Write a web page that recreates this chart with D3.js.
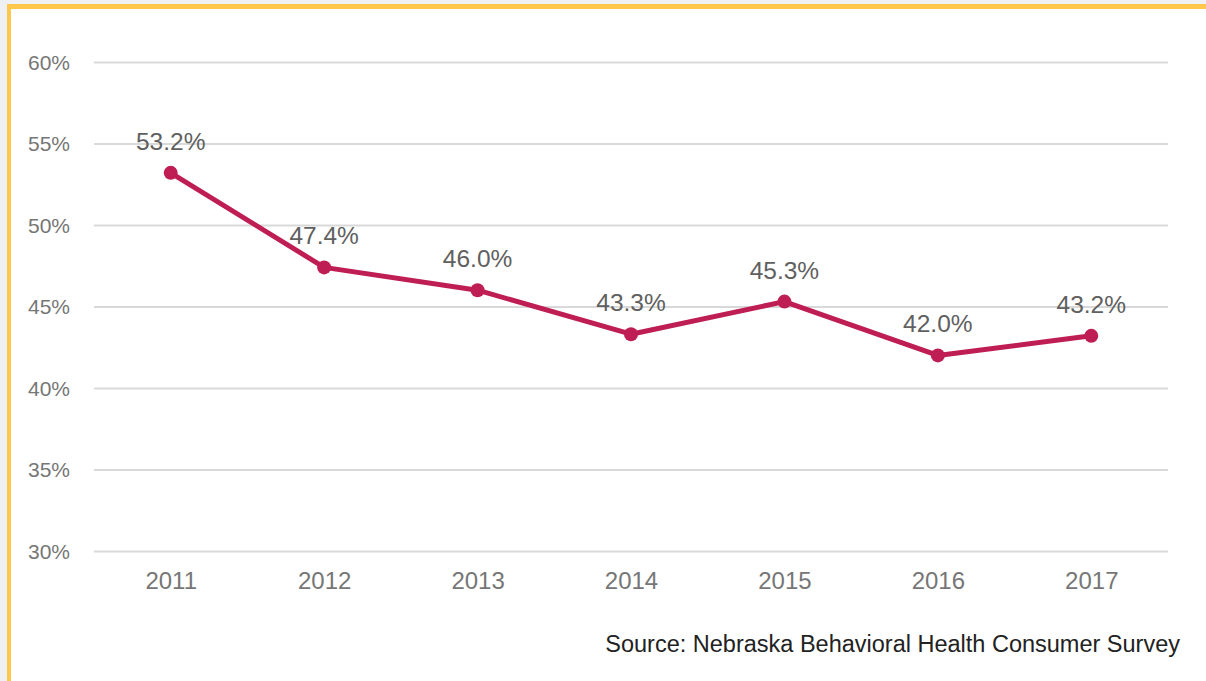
<!DOCTYPE html>
<html>
<head>
<meta charset="utf-8">
<script src="https://d3js.org/d3.v7.min.js"></script>
<style>
  html, body { margin: 0; padding: 0; background: #eef0f3; }
  svg { display: block; font-family: "Liberation Sans", Arial, sans-serif; }
</style>
</head>
<body>
<div id="chart"></div>
<script>
  // values
  const years = ["2011", "2012", "2013", "2014", "2015", "2016", "2017"];
  const values = [53.2, 47.4, 46.0, 43.3, 45.3, 42.0, 43.2];
  const yTicks = [30, 35, 40, 45, 50, 55, 60];
  const source = "Source: Nebraska Behavioral Health Consumer Survey";

  const W = 1206, H = 681;
  const plot = { left: 94, right: 1168, top: 62, bottom: 551 };

  const svg = d3.select("#chart").append("svg")
      .attr("width", W)
      .attr("height", H);

  // page + yellow frame
  svg.append("rect").attr("width", W).attr("height", H).attr("fill", "#eef0f3");
  svg.append("rect").attr("x", 7).attr("y", 4).attr("width", W).attr("height", H)
      .attr("fill", "#ffc84a");
  svg.append("rect").attr("x", 11).attr("y", 9).attr("width", W).attr("height", H)
      .attr("fill", "#ffffff");

  const x = d3.scalePoint()
      .domain(years)
      .range([plot.left, plot.right])
      .padding(0.5);

  const y = d3.scaleLinear()
      .domain([30, 60])
      .range([plot.bottom, plot.top]);

  // gridlines + y labels
  const yAxis = d3.axisLeft(y)
      .tickValues(yTicks)
      .tickSize(-(plot.right - plot.left))
      .tickPadding(24)
      .tickFormat(d => d + "%");

  const gy = svg.append("g")
      .attr("transform", "translate(" + plot.left + ",0)")
      .call(yAxis);
  gy.select(".domain").remove();
  gy.selectAll(".tick line").attr("stroke", "#d9d9d9").attr("stroke-width", 2);
  gy.selectAll(".tick text")
      .attr("fill", "#767676")
      .style("font-size", "21px")
      .attr("dy", "0.35em");

  // x labels
  const xAxis = d3.axisBottom(x).tickSize(0).tickPadding(21);
  const gx = svg.append("g")
      .attr("transform", "translate(0," + plot.bottom + ")")
      .call(xAxis);
  gx.select(".domain").remove();
  gx.selectAll(".tick text")
      .attr("fill", "#767676")
      .style("font-size", "24px");

  const pts = years.map((yr, i) => ({ year: yr, v: values[i] }));

  const line = d3.line()
      .x(d => x(d.year))
      .y(d => y(d.v));

  svg.append("path")
      .datum(pts)
      .attr("d", line)
      .attr("fill", "none")
      .attr("stroke", "#be1e53")
      .attr("stroke-width", 5)
      .attr("stroke-linejoin", "round");

  svg.selectAll(".dot")
      .data(pts)
      .enter().append("circle")
      .attr("class", "dot")
      .attr("cx", d => x(d.year))
      .attr("cy", d => y(d.v))
      .attr("r", 7)
      .attr("fill", "#be1e53");

  svg.selectAll(".lbl")
      .data(pts)
      .enter().append("text")
      .attr("class", "lbl")
      .attr("x", d => x(d.year))
      .attr("y", d => y(d.v) - 23)
      .attr("text-anchor", "middle")
      .attr("fill", "#606060")
      .style("font-size", "24.5px")
      .text(d => d.v.toFixed(1) + "%");

  svg.append("text")
      .attr("x", 1180)
      .attr("y", 652)
      .attr("text-anchor", "end")
      .attr("fill", "#222222")
      .style("font-size", "23.5px")
      .text(source);
</script>
</body>
</html>
